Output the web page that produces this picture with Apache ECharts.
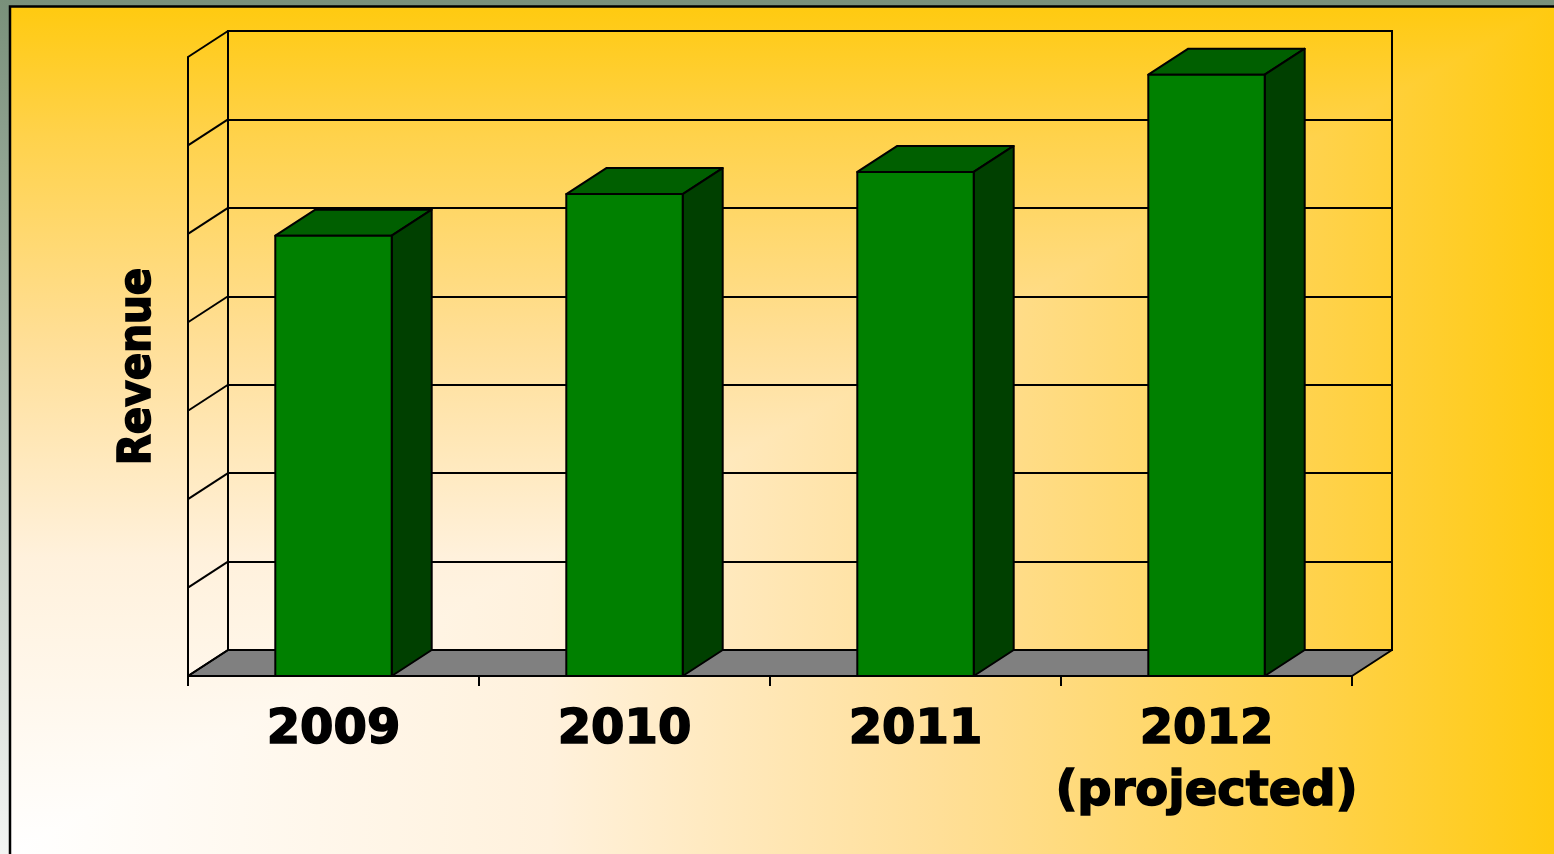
<!DOCTYPE html>
<html lang="en">
<head>
<meta charset="UTF-8">
<title>Revenue</title>
<script src="https://cdn.jsdelivr.net/npm/echarts@6/dist/echarts.min.js"></script>
<style>
  html, body { margin: 0; padding: 0; overflow: hidden; }
  #main { width: 1554px; height: 854px; }
</style>
</head>
<body>
<div id="main"></div>
<script>
// data (axis has no labels, units are arbitrary)
var years = ['2009', '2010', '2011', '2012\n(projected)'];
var revenue = [4.98, 5.45, 5.70, 6.80];
var levels = [0, 1, 2, 3, 4, 5, 6, 7];

// depth of the fake 3d box
var DX = 40, DY = -26;

function st(fill) {
    return { fill: fill, stroke: '#000', lineWidth: 2, lineJoin: 'round' };
}

// panel fill: colour depends on max(distance from left, distance from bottom)
var ramp = [
    { offset: 0, color: '#ffffff' },
    { offset: 0.35, color: '#fff1dc' },
    { offset: 0.6, color: '#ffdf98' },
    { offset: 0.85, color: '#ffd24a' },
    { offset: 1, color: '#ffca10' }
];

function renderBar(params, api) {
    var top = api.coord([api.value(0), api.value(1)]);
    var base = api.coord([api.value(0), 0]);
    var w = api.size([1, 0])[0] * 0.4;
    var x0 = top[0] - w / 2, x1 = top[0] + w / 2;
    var yt = top[1], yb = base[1];
    return {
        type: 'group',
        children: [
            { type: 'polygon', shape: { points: [[x0, yt], [x0 + DX, yt + DY], [x1 + DX, yt + DY], [x1, yt]] }, style: st('#005f00') },
            { type: 'polygon', shape: { points: [[x1, yt], [x1 + DX, yt + DY], [x1 + DX, yb + DY], [x1, yb]] }, style: st('#004000') },
            { type: 'rect', shape: { x: x0, y: yt, width: w, height: yb - yt }, style: st('#008000') }
        ]
    };
}

function renderWall(params, api) {
    var cs = params.coordSys;
    var y = api.coord([0, api.value(1)])[1];
    return {
        type: 'line',
        shape: { x1: cs.x, y1: y, x2: cs.x + DX, y2: y + DY },
        style: { stroke: '#000', lineWidth: 2 }
    };
}

function renderFloor(params, api) {
    var cs = params.coordSys;
    var yb = api.coord([0, 0])[1];
    var xl = cs.x, xr = cs.x + cs.width;
    return {
        type: 'polygon',
        shape: { points: [[xl, yb], [xr, yb], [xr + DX, yb + DY], [xl + DX, yb + DY]] },
        style: st('#808080')
    };
}

var myChart = echarts.init(document.getElementById('main'));

var option = {
    animation: false,
    backgroundColor: {
        type: 'linear', x: 0, y: 0, x2: 0, y2: 1,
        colorStops: [{ offset: 0, color: '#79907a' }, { offset: 1, color: '#f3f5f3' }]
    },
    graphic: [
        {
            type: 'rect', z: -20, silent: true,
            shape: { x: 10, y: 6, width: 1544, height: 848 },
            style: { fill: { type: 'linear', x: 0, y: 854, x2: 0, y2: 6, global: true, colorStops: ramp } }
        },
        {
            type: 'polygon', z: -19, silent: true,
            shape: { points: [[10, 854], [1554, 854], [1554, 6]] },
            style: { fill: { type: 'linear', x: 10, y: 0, x2: 1554, y2: 0, global: true, colorStops: ramp } }
        },
        {
            type: 'rect', z: -18, silent: true,
            shape: { x: 10, y: 6.5, width: 1560, height: 860 },
            style: { fill: 'none', stroke: '#000', lineWidth: 2.5 }
        }
    ],
    grid: [
        // front plane
        { left: 188, right: 202, top: 57, bottom: 178, show: false },
        // back wall
        { left: 228, right: 162, top: 31, bottom: 204, show: true, borderColor: '#000', borderWidth: 2, backgroundColor: 'transparent' }
    ],
    xAxis: [
        {
            type: 'category', gridIndex: 0, data: years,
            axisLine: { lineStyle: { color: '#000', width: 2 } },
            axisTick: { show: true, interval: 0, length: 10, lineStyle: { color: '#000', width: 2 } },
            axisLabel: {
                interval: 0, color: '#000', fontFamily: 'DejaVu Sans', fontWeight: 'bold',
                fontSize: 48, lineHeight: 62, margin: 24,
                textBorderColor: '#000', textBorderWidth: 1.6
            }
        },
        { type: 'category', gridIndex: 1, data: years, show: false }
    ],
    yAxis: [
        {
            type: 'value', gridIndex: 0, min: 0, max: 7, interval: 1,
            axisLine: { show: true, lineStyle: { color: '#000', width: 2 } },
            axisTick: { show: false },
            axisLabel: { show: false },
            splitLine: { show: false },
            name: 'Revenue', nameLocation: 'middle', nameGap: 27, nameRotate: 90,
            nameTextStyle: {
                color: '#000', fontFamily: 'DejaVu Sans Condensed', fontWeight: 'bold', fontSize: 45,
                textBorderColor: '#000', textBorderWidth: 1.6
            }
        },
        {
            type: 'value', gridIndex: 1, min: 0, max: 7, interval: 1,
            axisLine: { show: false }, axisTick: { show: false }, axisLabel: { show: false },
            splitLine: { show: true, lineStyle: { color: '#000', width: 2 } }
        }
    ],
    series: [
        {
            type: 'custom', name: 'floor', xAxisIndex: 0, yAxisIndex: 0, z: 1,
            renderItem: renderFloor, data: [[0, 0]], encode: { x: 0, y: 1 }, silent: true
        },
        {
            type: 'custom', name: 'wall', xAxisIndex: 0, yAxisIndex: 0, z: 1,
            renderItem: renderWall, data: levels.map(function (v) { return [0, v]; }),
            encode: { x: 0, y: 1 }, silent: true
        },
        {
            type: 'custom', name: 'Revenue', xAxisIndex: 0, yAxisIndex: 0, z: 3,
            renderItem: renderBar, data: revenue.map(function (v, i) { return [i, v]; }),
            encode: { x: 0, y: 1 }
        }
    ]
};

myChart.setOption(option);
</script>
</body>
</html>
